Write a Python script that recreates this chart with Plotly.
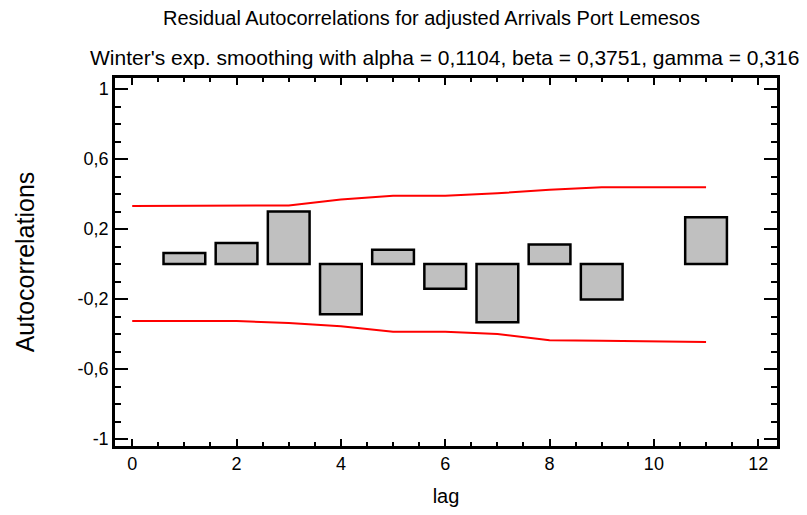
import plotly.graph_objects as go

# residual autocorrelations by lag (lag 10 is ~0, nothing drawn)
lags = [1, 2, 3, 4, 5, 6, 7, 8, 9, 10, 11]
acf = [0.063, 0.12, 0.30, -0.287, 0.082, -0.142, -0.333, 0.111, -0.203, None, 0.267]

# probability limits, lag 0..11
limit_lags = [0, 1, 2, 3, 4, 5, 6, 7, 8, 9, 10, 11]
upper = [0.332, 0.332, 0.332, 0.335, 0.368, 0.39, 0.39, 0.404, 0.424, 0.438, 0.438, 0.438]
lower = [-0.326, -0.326, -0.326, -0.337, -0.356, -0.387, -0.387, -0.40, -0.435, -0.438, -0.44, -0.446]

ytick_vals = [1, 0.6, 0.2, -0.2, -0.6, -1]
ytick_text = ["1", "0,6", "0,2", "-0,2", "-0,6", "-1"]
xtick_vals = [0, 2, 4, 6, 8, 10, 12]

title1 = "Residual Autocorrelations for adjusted Arrivals Port Lemesos"
title2 = "Winter's exp. smoothing with alpha = 0,1104, beta = 0,3751, gamma = 0,316"

FONT = "Liberation Sans, Arial, sans-serif"

# page body has an 8px margin, so the figure is shrunk to fit the window
W, H = 791, 499
L, T, R, B = 107, 70, 22, 61

fig = go.Figure()
fig.add_trace(go.Bar(x=lags, y=acf, width=0.8,
                     marker=dict(color="#C0C0C0", line=dict(color="black", width=2.5))))
fig.add_trace(go.Scatter(x=limit_lags, y=upper, mode="lines",
                         line=dict(color="#FF0000", width=2)))
fig.add_trace(go.Scatter(x=limit_lags, y=lower, mode="lines",
                         line=dict(color="#FF0000", width=2)))

# title centres in window pixels
pw, ph = W - L - R, H - T - B
def px(x, y):
    return (x - 8 - L) / pw, 1 + (T - (y - 8)) / ph

x1, y1 = px(431, 18)
x2, y2 = px(444, 58)

fig.update_layout(
    width=W, height=H,
    margin=dict(l=L, r=R, t=T, b=B),
    paper_bgcolor="white", plot_bgcolor="white",
    showlegend=False,
    separators=",.",
    font=dict(family=FONT, color="black", size=18),
    annotations=[
        dict(text=title1, x=x1, y=y1, xref="paper", yref="paper", showarrow=False,
             font=dict(size=20), xanchor="center", yanchor="middle"),
        dict(text=title2, x=x2, y=y2, xref="paper", yref="paper", showarrow=False,
             font=dict(size=21), xanchor="center", yanchor="middle"),
    ],
)

fig.update_xaxes(range=[-0.33, 12.36], tickvals=xtick_vals, automargin=False,
                 showline=True, linecolor="black", linewidth=2.5, mirror="ticks",
                 ticks="inside", ticklen=7, tickwidth=2, tickcolor="black",
                 minor=dict(dtick=0.5, tick0=0, ticks="inside", ticklen=4, tickwidth=2, tickcolor="black"),
                 showgrid=False, zeroline=False,
                 title=dict(text="lag", font=dict(size=20), standoff=21),
                 tickfont=dict(size=18))
fig.update_yaxes(range=[-1.04, 1.063], tickvals=ytick_vals, ticktext=ytick_text, automargin=False,
                 showline=True, linecolor="black", linewidth=2.5, mirror="ticks",
                 ticks="inside", ticklen=13, tickwidth=2, tickcolor="black",
                 minor=dict(dtick=0.1, tick0=0, ticks="inside", ticklen=6, tickwidth=2, tickcolor="black"),
                 showgrid=False, zeroline=False,
                 title=dict(text="Autocorrelations", font=dict(size=25), standoff=36),
                 tickfont=dict(size=18))

fig.write_html("out.html")
